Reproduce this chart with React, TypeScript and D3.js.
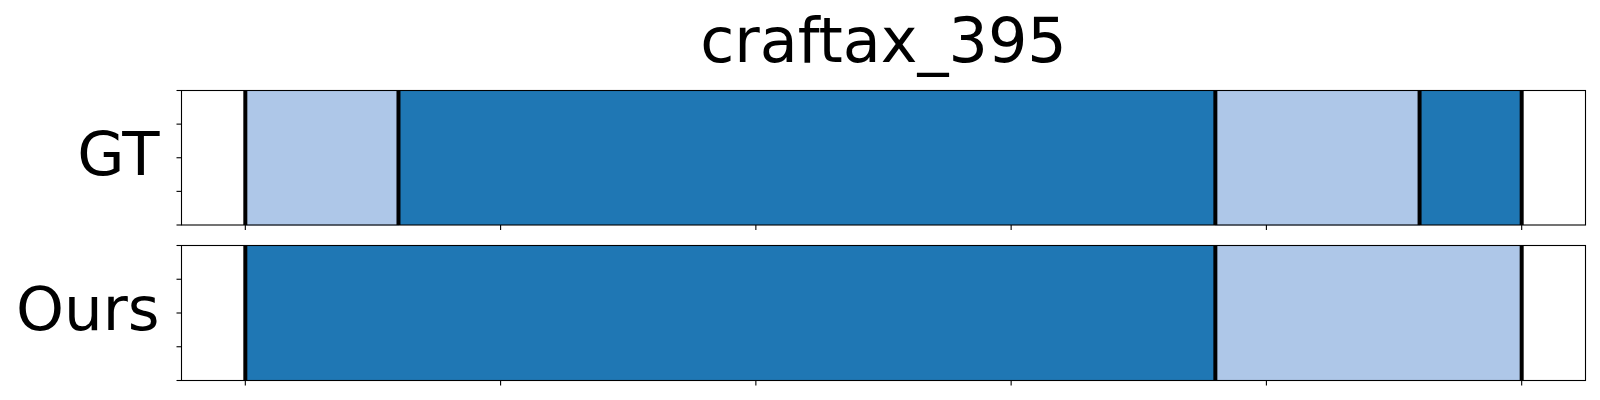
import React from "react";
import * as d3 from "d3";

// segment boundaries (frame index) and class of each segment
const title = "craftax_395";
const rowNames = ["GT", "Ours"];
const gtBounds = [0, 3, 19, 23, 25];
const gtClasses = [1, 0, 1, 0];
const oursBounds = [0, 19, 25];
const oursClasses = [0, 1];
const xTicks = [0, 5, 10, 15, 20, 25];
const yTicks = [0, 0.25, 0.5, 0.75, 1];
const palette = ["#1f77b4", "#aec7e8"];

const W = 1600;
const H = 400;
const margin = {left: 181.5, right: 14.5};
const rows = [
    {top: 90.5, bottom: 225},
    {top: 245.5, bottom: 380.5},
];
const font = "DejaVu Sans, sans-serif";

function Row(props: {name: string; bounds: number[]; classes: number[]; top: number; bottom: number}) {
    const {name, bounds, classes, top, bottom} = props;
    const total = bounds[bounds.length - 1];
    const pad = total * 0.05;

    const x = d3.scaleLinear()
        .domain([-pad, total + pad])
        .range([margin.left, W - margin.right]);
    const y = d3.scaleLinear()
        .domain([0, 1])
        .range([bottom, top]);

    const segs = classes.map((c, i) => ({start: bounds[i], end: bounds[i + 1], c}));

    return (
        <g>
            {segs.map((s, i) => (
                <rect key={"s" + i}
                      x={x(s.start)} y={y(1)}
                      width={x(s.end) - x(s.start)} height={y(0) - y(1)}
                      fill={palette[s.c]}
                      stroke={s.c === 1 ? "#9fb6d6" : "none"}
                      strokeWidth={1}/>
            ))}
            {bounds.map((b, i) => (
                <line key={"b" + i} x1={x(b)} x2={x(b)} y1={y(1)} y2={y(0)}
                      stroke="#000" strokeWidth={4}/>
            ))}
            {/* frame */}
            <rect x={x.range()[0]} y={top} width={x.range()[1] - x.range()[0]} height={bottom - top}
                  fill="none" stroke="#000" strokeWidth={1.1}/>
            {/* ticks, labels hidden */}
            {yTicks.map(t => (
                <line key={"y" + t} x1={x.range()[0] - 5} x2={x.range()[0]} y1={y(t)} y2={y(t)}
                      stroke="#000" strokeWidth={1.1}/>
            ))}
            {xTicks.map(t => (
                <line key={"x" + t} x1={x(t)} x2={x(t)} y1={bottom} y2={bottom + 5}
                      stroke="#000" strokeWidth={1.1}/>
            ))}
            <text x={159.5} y={(top + bottom) / 2 + 17} textAnchor="end"
                  fontFamily={font} fontSize={61} fill="#000">{name}</text>
        </g>
    );
}

export default function App() {
    return (
        <svg width={W} height={H} style={{position: "absolute", left: 0, top: 0, display: "block"}}>
            <rect x={0} y={0} width={W} height={H} fill="#fff"/>
            <text x={(margin.left + W - margin.right) / 2} y={62.3} textAnchor="middle"
                  fontFamily={font} fontSize={62} fill="#000">{title}</text>
            <Row name={rowNames[0]} bounds={gtBounds} classes={gtClasses} {...rows[0]}/>
            <Row name={rowNames[1]} bounds={oursBounds} classes={oursClasses} {...rows[1]}/>
        </svg>
    );
}
